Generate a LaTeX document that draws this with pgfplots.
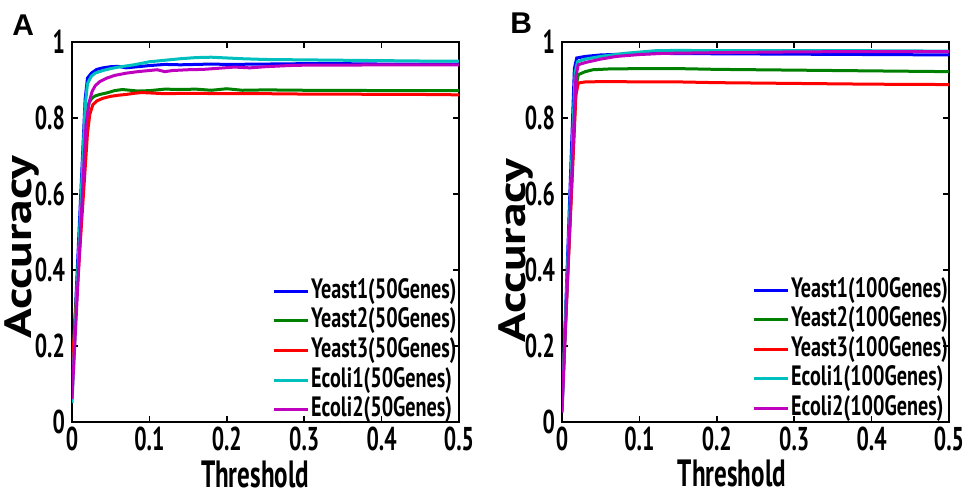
\documentclass[border=0pt]{standalone}
\usepackage{pgfplots}
\pgfplotsset{compat=1.18}
\usepackage{fontspec}
\setmainfont{PT Sans}[FakeStretch=0.66]
\newfontfamily\widefont{PT Sans}[FakeStretch=1.3]
\newfontfamily\legfont{PT Sans}[FakeStretch=0.72]
\newfontfamily\letterfont{Liberation Sans}

\definecolor{mblue}{rgb}{0,0,1}
\definecolor{mgreen}{rgb}{0,0.5,0}
\definecolor{mred}{rgb}{1,0,0}
\definecolor{mcyan}{rgb}{0,0.75,0.75}
\definecolor{mmag}{rgb}{0.75,0,0.75}

\pgfplotsset{
  panel/.style={
    scale only axis, width=193.5pt, height=190pt,
    xmin=0, xmax=0.5, ymin=0, ymax=1,
    xtick={0,0.1,0.2,0.3,0.4,0.5},
    ytick={0,0.2,0.4,0.6,0.8,1},
    axis line style={line width=1.4pt},
    tick style={line width=0.8pt, black},
    major tick length=3pt,
    every axis plot/.append style={line width=1.5pt},
    /pgf/number format/assume math mode=true,
    tick label style={font=\bfseries\fontsize{16.5}{16.5}\selectfont},
    xticklabel style={yshift=1pt},
    xlabel style={font=\bfseries\fontsize{19}{19}\selectfont, inner sep=0pt, anchor=north},
    ylabel style={font=\widefont\bfseries\fontsize{19}{19}\selectfont, inner sep=0pt, anchor=center},
    xlabel={Threshold}, ylabel={Accuracy},
    legend cell align=left,
    legend style={draw=none, fill=none, inner sep=0pt, anchor=north west,
      font=\legfont\bfseries\fontsize{14}{14}\selectfont, row sep=1.2pt,
      nodes={inner sep=0.8pt, text height=9.5pt, text depth=2.5pt}},
  }
}

\begin{document}
\begin{tikzpicture}
\useasboundingbox (0,0) rectangle (485pt,247.5pt);
\node[font=\letterfont\bfseries\fontsize{15}{15}\selectfont, anchor=north west, inner sep=0pt] at (6pt,240.5pt) {A};
\node[font=\letterfont\bfseries\fontsize{15}{15}\selectfont, anchor=north west, inner sep=0pt] at (255pt,241.5pt) {B};

\begin{axis}[panel, at={(36pt,36.5pt)}, anchor=south west,
    xlabel style={at={(axis description cs:0.473,0)}, yshift=-19pt},
    ylabel style={at={(axis description cs:-0.13,0.46)}},
    legend style={at={(axis description cs:0.517,0.381)}}]
\addplot[mblue] coordinates {
(0,0.10) (0.017,0.85) (0.020,0.905) (0.025,0.918) (0.032,0.928) (0.04,0.932)
(0.05,0.935) (0.06,0.936) (0.07,0.932) (0.08,0.934) (0.09,0.936) (0.10,0.938)
(0.12,0.941) (0.14,0.940) (0.16,0.941) (0.18,0.942) (0.20,0.941) (0.25,0.942)
(0.30,0.943) (0.35,0.943) (0.40,0.942) (0.45,0.942) (0.50,0.942)};
\addplot[mgreen] coordinates {
(0,0.13) (0.019,0.80) (0.022,0.84) (0.026,0.853) (0.03,0.858) (0.036,0.862)
(0.045,0.866) (0.055,0.872) (0.065,0.875) (0.075,0.873) (0.085,0.871) (0.10,0.872)
(0.12,0.876) (0.14,0.875) (0.16,0.876) (0.18,0.873) (0.20,0.877) (0.22,0.873)
(0.25,0.874) (0.30,0.873) (0.35,0.873) (0.40,0.872) (0.45,0.872) (0.50,0.872)};
\addplot[mred] coordinates {
(0,0.14) (0.02,0.76) (0.023,0.81) (0.027,0.835) (0.032,0.845) (0.04,0.852)
(0.05,0.857) (0.06,0.860) (0.07,0.862) (0.08,0.865) (0.09,0.867) (0.10,0.866)
(0.12,0.864) (0.15,0.865) (0.20,0.864) (0.25,0.864) (0.30,0.863) (0.35,0.863)
(0.40,0.862) (0.45,0.862) (0.50,0.861)};
\addplot[mcyan] coordinates {
(0,0.05) (0.017,0.83) (0.020,0.89) (0.025,0.91) (0.03,0.918) (0.04,0.925)
(0.05,0.930) (0.06,0.934) (0.07,0.937) (0.08,0.940) (0.09,0.944) (0.10,0.948)
(0.12,0.952) (0.14,0.956) (0.16,0.959) (0.18,0.960) (0.20,0.958) (0.22,0.956)
(0.25,0.954) (0.30,0.953) (0.35,0.952) (0.40,0.951) (0.45,0.950) (0.50,0.950)};
\addplot[mmag] coordinates {
(0,0.06) (0.018,0.78) (0.022,0.84) (0.026,0.87) (0.03,0.885) (0.036,0.896)
(0.045,0.905) (0.055,0.912) (0.07,0.918) (0.085,0.922) (0.10,0.925) (0.11,0.927)
(0.12,0.922) (0.13,0.925) (0.15,0.927) (0.17,0.928) (0.19,0.931) (0.21,0.934)
(0.23,0.932) (0.25,0.935) (0.28,0.938) (0.30,0.939) (0.35,0.939) (0.40,0.940)
(0.45,0.940) (0.50,0.940)};
\legend{Yeast1(50Genes),Yeast2(50Genes),Yeast3(50Genes),Ecoli1(50Genes),Ecoli2(50Genes)}
\end{axis}

\begin{axis}[panel, at={(281pt,36.5pt)}, anchor=south west,
    xlabel style={at={(axis description cs:0.439,0)}, yshift=-18.5pt},
    ylabel style={at={(axis description cs:-0.118,0.45)}},
    legend style={at={(axis description cs:0.491,0.384)}}]
\addplot[mblue] coordinates {
(0,0.03) (0.016,0.93) (0.019,0.958) (0.03,0.962) (0.05,0.966) (0.08,0.968)
(0.12,0.970) (0.20,0.969) (0.30,0.968) (0.40,0.967) (0.50,0.966)};
\addplot[mgreen] coordinates {
(0,0.05) (0.018,0.88) (0.021,0.914) (0.03,0.922) (0.04,0.927) (0.06,0.929)
(0.10,0.930) (0.15,0.930) (0.20,0.928) (0.25,0.927) (0.30,0.926) (0.40,0.924)
(0.50,0.922)};
\addplot[mred] coordinates {
(0,0.05) (0.018,0.86) (0.021,0.892) (0.03,0.895) (0.06,0.896) (0.10,0.895)
(0.15,0.895) (0.20,0.893) (0.30,0.891) (0.40,0.889) (0.50,0.888)};
\addplot[mcyan] coordinates {
(0,0.03) (0.017,0.92) (0.020,0.948) (0.03,0.955) (0.05,0.962) (0.08,0.970)
(0.12,0.977) (0.15,0.978) (0.20,0.977) (0.30,0.977) (0.40,0.977) (0.50,0.976)};
\addplot[mmag] coordinates {
(0,0.025) (0.018,0.91) (0.021,0.94) (0.03,0.946) (0.05,0.955) (0.07,0.962)
(0.10,0.967) (0.13,0.970) (0.20,0.972) (0.30,0.974) (0.40,0.975) (0.50,0.975)};
\legend{Yeast1(100Genes),Yeast2(100Genes),Yeast3(100Genes),Ecoli1(100Genes),Ecoli2(100Genes)}
\end{axis}
\end{tikzpicture}
\end{document}
